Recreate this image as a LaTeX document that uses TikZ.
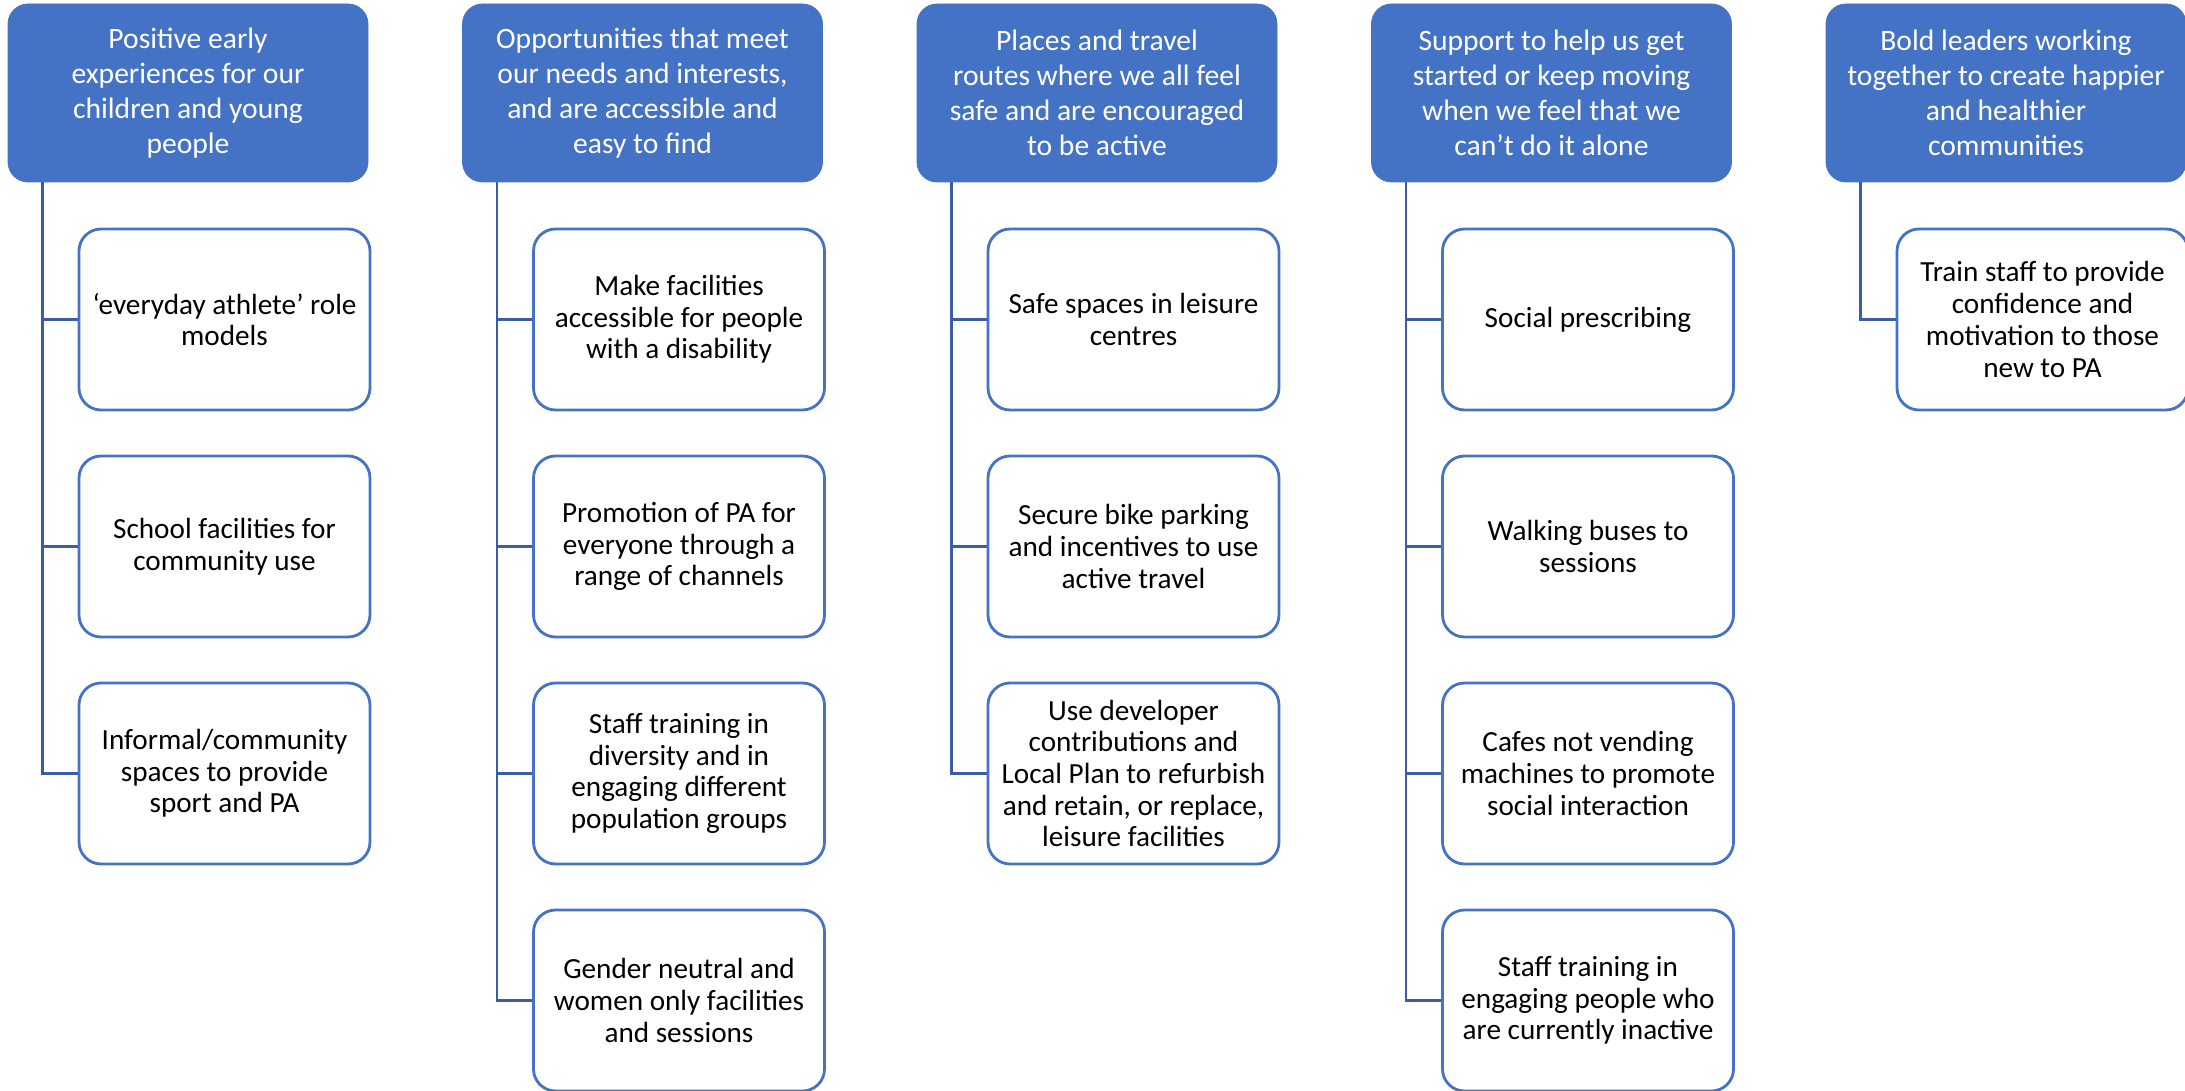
\documentclass[tikz,border=0pt]{standalone}
\usepackage{fontspec}
\setmainfont{Carlito}
\definecolor{accent}{HTML}{4472C4}
\definecolor{linkc}{HTML}{3A5DA5}
\begin{document}
\begin{tikzpicture}[x=0.5pt,y=-0.5pt,
  head/.style={rectangle, rounded corners=10pt, fill=accent, draw=accent, text=white,
    minimum width=180pt, minimum height=89pt, align=center, inner sep=0pt,
    font=\fontsize{14.8}{17.5}\selectfont},
  item/.style={rectangle, rounded corners=11pt, draw=accent, line width=1.4pt, fill=white,
    minimum width=145.5pt, minimum height=90.5pt, align=center, inner sep=0pt,
    font=\fontsize{14.6}{15.85}\selectfont},
  link/.style={draw=linkc, line width=1.2pt}]
\useasboundingbox (0,0) rectangle (2185,1091);

% column headers
\node[head] (h1) at (188,93)    {Positive early\\experiences for our\\children and young\\people};
\node[head] (h2) at (642.5,93)  {Opportunities that meet\\our needs and interests,\\and are accessible and\\easy to find};
\node[head] (h3) at (1097,93)   {Places and travel\\routes where we all feel\\safe and are encouraged\\to be active};
\node[head] (h4) at (1551.5,93) {Support to help us get\\started or keep moving\\when we feel that we\\can’t do it alone};
\node[head] (h5) at (2006,93)   {Bold leaders working\\together to create happier\\and healthier\\communities};

% column 1
\node[item] (c11) at (224.5,319.5) {‘everyday athlete’ role\\models};
\node[item] (c12) at (224.5,546.5) {School facilities for\\community use};
\node[item] (c13) at (224.5,773.5) {Informal/community\\spaces to provide\\sport and PA};

% column 2
\node[item] (c21) at (679,319.5)  {Make facilities\\accessible for people\\with a disability};
\node[item] (c22) at (679,546.5)  {Promotion of PA for\\everyone through a\\range of channels};
\node[item] (c23) at (679,773.5)  {Staff training in\\diversity and in\\engaging different\\population groups};
\node[item] (c24) at (679,1000.5) {Gender neutral and\\women only facilities\\and sessions};

% column 3
\node[item] (c31) at (1133.5,319.5) {Safe spaces in leisure\\centres};
\node[item] (c32) at (1133.5,546.5) {Secure bike parking\\and incentives to use\\active travel};
\node[item] (c33) at (1133.5,773.5) {Use developer\\contributions and\\Local Plan to refurbish\\and retain, or replace,\\leisure facilities};

% column 4
\node[item] (c41) at (1588,319.5)  {Social prescribing};
\node[item] (c42) at (1588,546.5)  {Walking buses to\\sessions};
\node[item] (c43) at (1588,773.5)  {Cafes not vending\\machines to promote\\social interaction};
\node[item] (c44) at (1588,1000.5) {Staff training in\\engaging people who\\are currently inactive};

% column 5
\node[item] (c51) at (2042.5,319.5) {Train staff to provide\\confidence and\\motivation to those\\new to PA};

% connectors: down from each header, across to each item
\foreach \h/\items in {h1/{c11,c12,c13}, h2/{c21,c22,c23,c24}, h3/{c31,c32,c33},
                       h4/{c41,c42,c43,c44}, h5/{c51}}{
  \foreach \c in \items {
    \draw[link] (\h.south west) ++(35,0) |- (\c.west);
  }
}
\end{tikzpicture}
\end{document}
